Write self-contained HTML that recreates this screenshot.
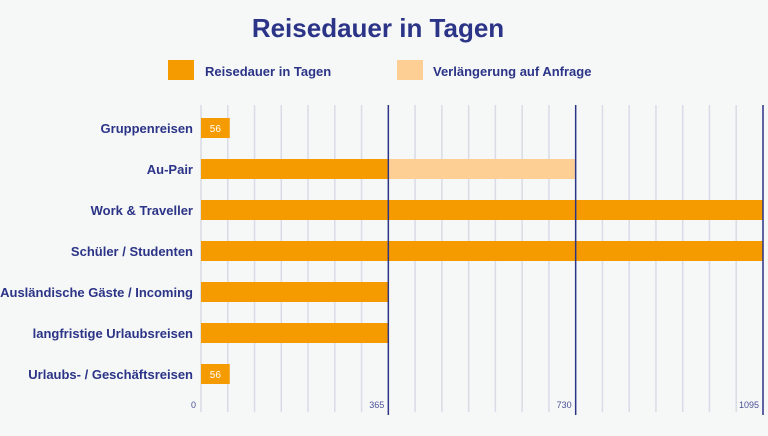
<!DOCTYPE html>
<html><head><meta charset="utf-8"><style>
html,body{margin:0;padding:0;background:#f6f7f7;}
svg{display:block;font-family:"Liberation Sans",sans-serif;}
</style></head><body>
<svg id="chart" width="768" height="436" xmlns="http://www.w3.org/2000/svg">
<rect width="768" height="436" fill="#f6f7f7"/>
<text x="378" y="37" text-anchor="middle" font-size="26" font-weight="bold" fill="#2b3487">Reisedauer in Tagen</text>
<g>
<rect x="168" y="60" width="26" height="20" fill="#f59b00"/>
<text x="205" y="76" font-size="13" font-weight="bold" fill="#2b3487">Reisedauer in Tagen</text>
<rect x="397" y="60" width="26" height="20" fill="#fdcf94"/>
<text x="433" y="76" font-size="13" font-weight="bold" fill="#2b3487">Verlängerung auf Anfrage</text>
</g>
<g id="grid"></g><g id="bars"></g><g id="labels"></g><g id="axis"></g>
</svg>
<script>
const categories=["Gruppenreisen","Au-Pair","Work & Traveller","Schüler / Studenten","Ausländische Gäste / Incoming","langfristige Urlaubsreisen","Urlaubs- / Geschäftsreisen"];
const baseDays=[56,365,1095,1095,365,365,56];
const extDays=[0,365,0,0,0,0,0];
const valueLabels=["56","","","","","","56"];
const tickValues=[0,365,730,1095];
const tickLabels=["0","365","730","1095"];
const NS="http://www.w3.org/2000/svg";
const x0=201,x1=763,dMax=1095;
const xs=v=>x0+(v/dMax)*(x1-x0);
const rowTop=118,rowStep=41,barH=20;
const ys=i=>rowTop+i*rowStep;
function mk(tag,attrs,parent){const e=document.createElementNS(NS,tag);for(const k in attrs)e.setAttribute(k,attrs[k]);parent.appendChild(e);return e;}
const grid=document.getElementById('grid'),bars=document.getElementById('bars'),labels=document.getElementById('labels'),axis=document.getElementById('axis');
for(let k=1;k<21;k++){
 if(k%7===0)continue;
 const g=mk('line',{x1:xs(k*365/7),x2:xs(k*365/7),y1:105,y2:412,stroke:'#d9dbe6','stroke-width':1.5},grid);
 
 
}
const zl=mk('line',{x1:x0,x2:x0,y1:105,y2:412,stroke:'#d9dbe6','stroke-width':1.5},grid);


categories.forEach((c,i)=>{
 const y=ys(i);
 const b=mk('rect',{x:x0,y:y,width:xs(baseDays[i])-x0,height:barH,fill:'#f59b00'},bars);
 
 
 if(extDays[i]>0){
  const e=mk('rect',{x:xs(baseDays[i]),y:y,width:xs(baseDays[i]+extDays[i])-xs(baseDays[i]),height:barH,fill:'#fdcf94'},bars);
  
  
 }
 if(valueLabels[i]){
  const v=mk('text',{x:(x0+xs(baseDays[i]))/2,y:y+14,'text-anchor':'middle','font-size':10,fill:'#fff'},bars);
  v.textContent=valueLabels[i];
  
  
 }
 const t=mk('text',{x:193,y:y+15,'text-anchor':'end','font-size':13,'font-weight':'bold',fill:'#2b3487'},labels);
 t.textContent=c;
 
 
});
tickValues.forEach((v,i)=>{
 const x=xs(v);
 if(v>0){
  const l=mk('line',{x1:x,x2:x,y1:105,y2:415,stroke:'#2b3487','stroke-width':1.5},axis);
  
  
 }
 const t=mk('text',{x:v===0?196:x-4,y:408,'text-anchor':'end','font-size':9,fill:'#4a5296'},axis);
 t.textContent=tickLabels[i];
 
 
});
</script>
</body></html>
